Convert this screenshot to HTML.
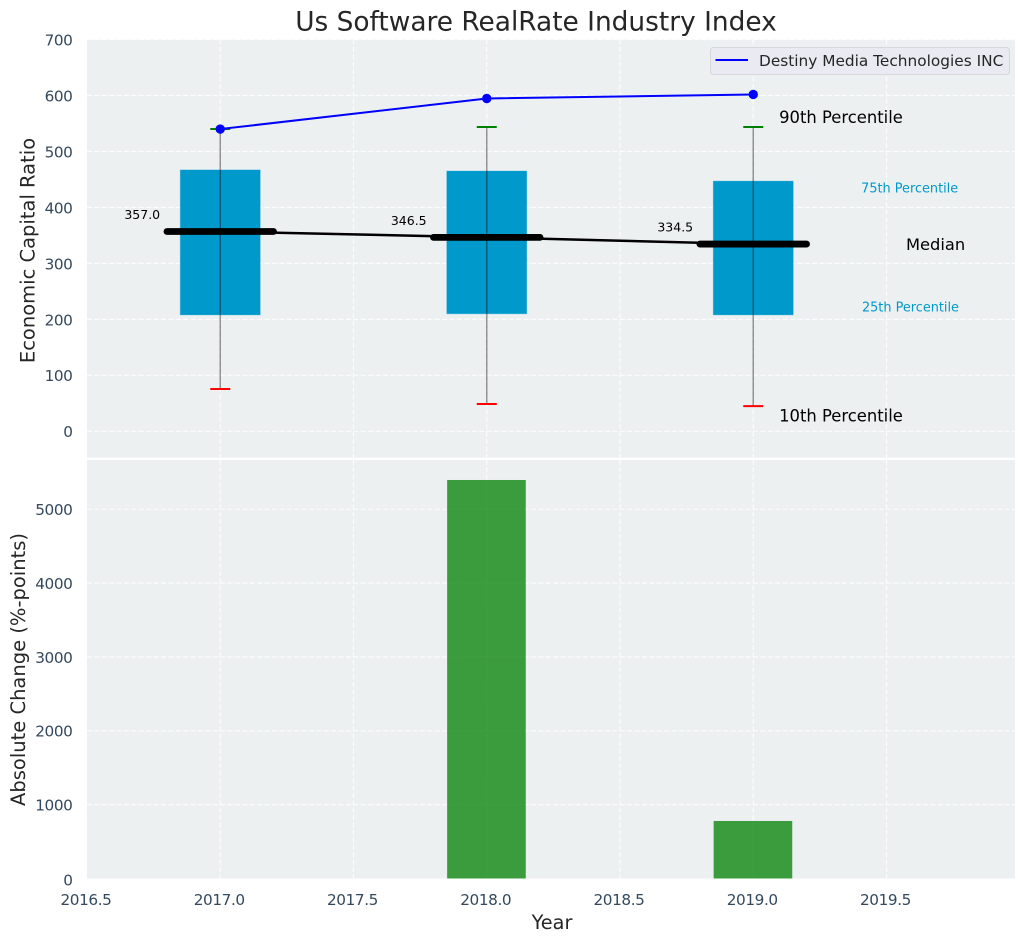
<!DOCTYPE html>
<html lang="en">
<head>
<meta charset="utf-8">
<title>Us Software RealRate Industry Index</title>
<style>
html,body{margin:0;padding:0;background:#fff;width:1026px;height:942px;overflow:hidden}
svg{display:block}
text{font-family:"DejaVu Sans","Liberation Sans",sans-serif}
</style>
</head>
<body>
<svg id="chart" xmlns="http://www.w3.org/2000/svg" width="1026" height="942" viewBox="0 0 1026 942">
  <rect x="87" y="39.5" width="928" height="418.2" fill="#ecf0f1"/>
  <rect x="87" y="460" width="928" height="418.5" fill="#ecf0f1"/>
  <g id="grid"></g>
  <g id="marks"></g>
  <g id="ticks"></g>
  <text x="536" y="30.5" text-anchor="middle" font-size="26.4" fill="#262626">Us Software RealRate Industry Index</text>
  <text transform="translate(34.5,250.5) rotate(-90)" text-anchor="middle" font-size="19.5" fill="#262626">Economic Capital Ratio</text>
  <text transform="translate(25,669.5) rotate(-90)" text-anchor="middle" font-size="19.5" fill="#262626">Absolute Change (%-points)</text>
  <text x="552" y="929" text-anchor="middle" font-size="19.3" fill="#262626">Year</text>
  <g>
    <rect x="710.5" y="47.5" width="299" height="27" rx="3" fill="#eaeaf2" stroke="#d6d6dc" stroke-width="1"/>
    <line x1="715.5" y1="60" x2="748" y2="60" stroke="#0000ff" stroke-width="2"/>
    <text x="759" y="66" font-size="15.35" fill="#262626">Destiny Media Technologies INC</text>
  </g>
</svg>
<script>
const years = [2017, 2018, 2019];
const p90 = [540, 543.7, 543.7];
const p75 = [467, 465, 447];
const medians = [357, 346.5, 334.5];
const medianLabels = ['357.0', '346.5', '334.5'];
const p25 = [208, 210, 208];
const p10 = [75.6, 48.8, 45];
const company = [540, 594.6, 601.8];
const changes = [0, 5397, 779];
const xTicks = [2016.5, 2017, 2017.5, 2018, 2018.5, 2019, 2019.5];
const xTickLabels = ['2016.5', '2017.0', '2017.5', '2018.0', '2018.5', '2019.0', '2019.5'];
const topYTicks = [0, 100, 200, 300, 400, 500, 600, 700];
const bottomYTicks = [0, 1000, 2000, 3000, 4000, 5000];

const NS = 'http://www.w3.org/2000/svg';
const x = v => 87 + (v - 2016.5) * 266.5;
const yTop = v => 431.3 - v * 0.5597;
const yBottom = v => 878.5 - v * 0.07384;
const boxWidth = 0.3;
const barWidth = 0.295;
const medianWidth = 0.4;
const capHalf = 10;
const tickColor = '#34495e';
const boxColor = '#0099cc';

function make(tag, attrs, parent, content) {
  const el = document.createElementNS(NS, tag);
  for (const k in attrs) el.setAttribute(k, attrs[k]);
  if (content !== undefined) el.textContent = content;
  parent.appendChild(el);
  return el;
}

const grid = document.getElementById('grid');
const marks = document.getElementById('marks');
const ticks = document.getElementById('ticks');
const gridStyle = {stroke: '#ffffff', 'stroke-width': 1.2, 'stroke-dasharray': '5 2.4', opacity: 0.85};
const tickStyle = {'font-size': 15.28, 'letter-spacing': -0.4, fill: tickColor};

xTicks.forEach((t, i) => {
  if (i === 0) return;
  const a = make('line', {x1: x(t), x2: x(t), y1: 39.5, y2: 457.7, ...gridStyle}, grid);
  
  
  const b = make('line', {x1: x(t), x2: x(t), y1: 460, y2: 878.5, ...gridStyle}, grid);
  
  
});
topYTicks.forEach(t => {
  const l = make('line', {x1: 87, x2: 1015, y1: yTop(t), y2: yTop(t), ...gridStyle}, grid);
  
  
  const label = make('text', {x: 72.5, y: yTop(t) + 5.9, 'text-anchor': 'end', ...tickStyle}, ticks, String(t));
  
  
});
bottomYTicks.forEach(t => {
  if (t > 0) {
    const l = make('line', {x1: 87, x2: 1015, y1: yBottom(t), y2: yBottom(t), ...gridStyle}, grid);
    
    
  }
  const label = make('text', {x: 72.5, y: yBottom(t) + (t === 0 ? 6.8 : 5.9), 'text-anchor': 'end', ...tickStyle}, ticks, String(t));
  
  
});
xTickLabels.forEach((t, i) => {
  const label = make('text', {x: x(xTicks[i]) - 1, y: 905, 'text-anchor': 'middle', ...tickStyle}, ticks, t);
  
  
});

years.forEach((yr, i) => {
  const w = boxWidth * 266.5;
  const box = make('rect', {x: x(yr) - w / 2, y: yTop(p75[i]), width: w, height: yTop(p25[i]) - yTop(p75[i]), fill: boxColor, stroke: boxColor, 'stroke-opacity': 0.3, 'stroke-width': 1}, marks);
  
  

  const bw = barWidth * 266.5;
  const bar = make('rect', {x: x(yr) - bw / 2 - 0.3, y: yBottom(changes[i]), width: bw, height: yBottom(0) - yBottom(changes[i]), fill: '#008000', 'fill-opacity': 0.75}, marks);
  
  
});

const medianPath = make('polyline', {points: years.map((yr, i) => x(yr) + ',' + yTop(medians[i])).join(' '), fill: 'none', stroke: '#000000', 'stroke-width': 2.5}, marks);



years.forEach((yr, i) => {
  const w = medianWidth * 266.5;
  const m = make('line', {x1: x(yr) - w / 2, x2: x(yr) + w / 2, y1: yTop(medians[i]), y2: yTop(medians[i]), stroke: '#000000', 'stroke-width': 6.8, 'stroke-linecap': 'round'}, marks);
  
  

  const whisker = make('line', {x1: x(yr), x2: x(yr), y1: yTop(p90[i]), y2: yTop(p10[i]), stroke: '#000000', 'stroke-opacity': 0.4, 'stroke-width': 1.5}, marks);
  
  

  const capHigh = make('line', {x1: x(yr) - capHalf, x2: x(yr) + capHalf, y1: yTop(p90[i]), y2: yTop(p90[i]), stroke: '#008000', 'stroke-width': 2}, marks);
  
  

  const capLow = make('line', {x1: x(yr) - capHalf, x2: x(yr) + capHalf, y1: yTop(p10[i]), y2: yTop(p10[i]), stroke: '#ff0000', 'stroke-width': 2}, marks);
  
  

  const label = make('text', {x: x(yr) - 78, y: yTop(medians[i]) - 12.5, 'text-anchor': 'middle', 'font-size': 12.5, fill: '#000000'}, marks, medianLabels[i]);
  
  
});

const companyPath = make('polyline', {points: years.map((yr, i) => x(yr) + ',' + yTop(company[i])).join(' '), fill: 'none', stroke: '#0000ff', 'stroke-width': 2}, marks);


years.forEach((yr, i) => {
  const dot = make('circle', {cx: x(yr), cy: yTop(company[i]), r: 4.7, fill: '#0000ff'}, marks);
  
  
});

const last = years.length - 1;
const noteP90 = make('text', {x: x(years[last] + 0.097), y: yTop(p90[last]) - 4, 'font-size': 16.4, fill: '#000000'}, marks, '90th Percentile');


const noteP10 = make('text', {x: x(years[last] + 0.097), y: yTop(p10[last]) + 15.5, 'font-size': 16.4, fill: '#000000'}, marks, '10th Percentile');


const noteP75 = make('text', {x: x(years[last] + 0.405), y: yTop(p75[last]) + 11.5, 'font-size': 12.85, fill: '#0099cc'}, marks, '75th Percentile');


const noteP25 = make('text', {x: x(years[last] + 0.408), y: yTop(p25[last]) - 3.5, 'font-size': 12.85, fill: '#0099cc'}, marks, '25th Percentile');


const noteMedian = make('text', {x: x(years[last] + 0.573), y: yTop(medians[last]) + 6, 'font-size': 16.3, fill: '#000000'}, marks, 'Median');


</script>
</body>
</html>
